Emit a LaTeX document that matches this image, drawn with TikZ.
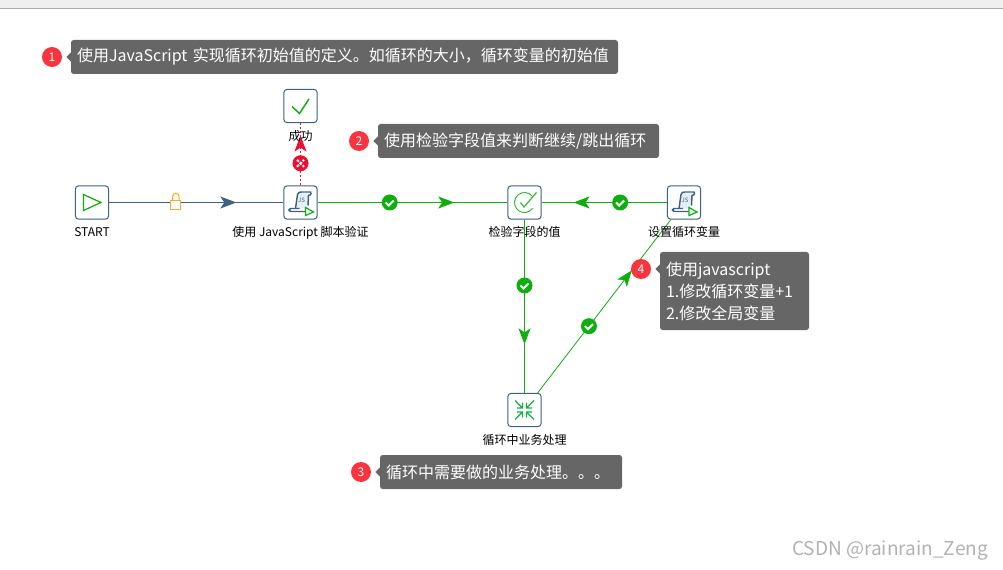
\documentclass[tikz,border=0pt]{standalone}
\usepackage{fontspec}
\setmainfont{Noto Sans CJK SC}
\usetikzlibrary{arrows.meta,positioning,decorations.markings}
\definecolor{flowblue}{HTML}{3D6384}
\definecolor{flowgreen}{HTML}{0DAE0D}
\definecolor{flowred}{HTML}{EA1030}
\definecolor{flowlock}{HTML}{FFA820}
\definecolor{notegrey}{HTML}{666666}
\definecolor{badgered}{HTML}{F9343F}
\definecolor{barline}{HTML}{ABABAB}
\definecolor{barfill}{HTML}{EFEFEF}
\definecolor{scrollfill}{HTML}{E4EEF6}
\definecolor{mergegreen}{HTML}{14B04A}
\tikzset{
  stepbox/.style={draw=flowblue, fill=white, rounded corners=2.5pt, line width=0.75pt, minimum size=25pt, inner sep=0pt},
  steplabel/.style={below=4.6pt of #1, font=\fontsize{9}{10}\selectfont, inner sep=0pt, text height=8pt, text depth=2pt},
  note/.style={fill=notegrey, text=white, rounded corners=2pt, inner xsep=4.5pt, inner ysep=0pt, minimum height=25.5pt, text width=#1, align=left, font=\fontsize{12}{16.5}\selectfont},
  badge/.style={circle, fill=badgered, text=white, minimum size=15pt, inner sep=0pt, font=\fontsize{9}{10}\selectfont},
  flowline/.style={line width=0.75pt},
  tipat/.style={postaction={decorate}, decoration={markings, mark=at position #1 with {\arrow{Stealth[length=12pt,width=9pt,inset=3pt]}}}},
  okmark/.style={circle, fill=flowgreen, minimum size=12pt, inner sep=0pt, path picture={
    \draw[white, line width=1.5pt] ([shift={(-4,0)}]path picture bounding box.center) -- ++(3,3) -- ++(5,-5);}},
  failmark/.style={circle, fill=flowred, minimum size=12pt, inner sep=0pt, path picture={
    \draw[white, line width=1.5pt] ([shift={(-3.5,-3.5)}]path picture bounding box.center) -- ++(7,7);
    \draw[white, line width=1.5pt] ([shift={(-3.5,3.5)}]path picture bounding box.center) -- ++(7,-7);}},
  lockmark/.style={draw=flowlock, fill=white, line width=0.8pt, minimum width=7.5pt, minimum height=7pt, inner sep=0pt, yshift=-2pt},
  playicon/.pic={\draw[flowgreen, line width=0.9pt] (-8.5,-8) -- (9,0) -- (-8.5,8) -- cycle;},
  tickicon/.pic={\draw[flowgreen, line width=1.1pt] (-8.5,0.5) -- (-1,7.5) -- (8.5,-7);},
  checkicon/.pic={
    \draw[flowgreen!85, line width=0.7pt] (40:7.5pt) arc[start angle=40, end angle=325, radius=7.5pt];
    \draw[flowgreen!85, line width=0.9pt] (-4,0) -- (-0.5,4.5) -- (12,-10);},
  mergeicon/.pic={
    \foreach \sx/\sy in {-1/-1,1/-1,-1/1,1/1}
      \draw[mergegreen, line width=0.9pt] (\sx*9.5,\sy*9.5) -- (\sx*2,\sy*2) (\sx*7.5,\sy*2) -- (\sx*2,\sy*2) -- (\sx*2,\sy*7.5);},
  scrollicon/.pic={
    \fill[scrollfill] (-3,-9) -- (8,-9) -- (7,6) -- (-5,6) -- cycle;
    \draw[flowblue, line width=1.1pt] (-5,6) -- (-3,-8) .. controls (-2.5,-10) and (-1,-10.5) .. (1,-10.5) -- (10,-10.5) .. controls (11,-10.5) and (11,-7) .. (8,-7) -- (7.5,3);
    \draw[flowblue, line width=1.1pt] (5,9) -- (-10,9) .. controls (-12,9) and (-12,6) .. (-10,6) -- (-1,6);
    \node[text=flowblue, font=\fontsize{4.5}{5}\selectfont, inner sep=0pt] (jstext) at (1,-2) {JS};
    \draw[flowgreen, line width=0.9pt, fill=white] (5,5) -- (13,9.5) -- (5,13) -- cycle;},
}
\begin{document}
\begin{tikzpicture}[x=0.75pt, y=-0.75pt, >=Stealth]
  \useasboundingbox (0,0) rectangle (1003,570);
  \node[fill=barfill, minimum width=752.25pt, minimum height=6pt, inner sep=0pt, anchor=north west] (topbar) at (0,0) {};
  \draw[barline, line width=0.75pt] (topbar.south west) -- (topbar.south east);
  % steps
  \node[stepbox] (start) at (92,202.5) {};
  \node[stepbox] (success) at (300.5,106) {};
  \node[stepbox] (jscheck) at (300.5,202.5) {};
  \node[stepbox] (fieldcheck) at (524.5,202.5) {};
  \node[stepbox] (setvar) at (684,202.5) {};
  \node[stepbox] (business) at (524.5,410) {};
  \pic at (start) {playicon};
  \pic at (success) {tickicon};
  \pic at (jscheck) {scrollicon};
  \pic at (fieldcheck) {checkicon};
  \pic at (setvar) {scrollicon};
  \pic at (business) {mergeicon};
  % hops
  \draw[flowblue, flowline, tipat=0.73] (start) -- node[lockmark, pos=0.383] (lock) {} (jscheck);
  \draw[flowlock, line width=0.8pt] ([xshift=-2.4pt]lock.north) -- ++(0,-3.5) arc[start angle=180, end angle=0, radius=2.4pt] -- ++(0,3.5);
  \draw[flowred, flowline, dash pattern=on 2pt off 1pt, tipat=0.80] (jscheck) -- node[failmark, pos=0.355] (fail) {} (success);
  \draw[flowgreen, flowline, tipat=0.72] (jscheck) -- node[okmark, pos=0.38] (ok1) {} (fieldcheck);
  \draw[flowgreen, flowline, tipat=0.745] (setvar) -- node[okmark, pos=0.373] (ok2) {} (fieldcheck);
  \draw[flowgreen, flowline, tipat=0.72] (fieldcheck) -- node[okmark, pos=0.38] (ok3) {} (business);
  \draw[flowgreen, line width=0.6pt, tipat=0.707] (business) -- node[okmark, pos=0.385] (ok4) {} (setvar);
  % step names
  \node[steplabel=start] (startname) {START};
  \node[steplabel=success] (successname) {成功};
  \node[steplabel=jscheck] (jscheckname) {使用 JavaScript 脚本验证};
  \node[steplabel=fieldcheck] (fieldcheckname) {检验字段的值};
  \node[steplabel=setvar] (setvarname) {设置循环变量};
  \node[steplabel=business] (businessname) {循环中业务处理};
  % notes
  \node[note=401.25pt] (note1) at (344.5,57) {使用JavaScript 实现循环初始值的定义。如循环的大小，循环变量的初始值};
  \node[note=201.75pt] (note2) at (518.5,141) {使用检验字段值来判断继续/跳出循环};
  \node[note=172.5pt] (note3) at (501,472) {循环中需要做的业务处理。。。};
  \node[note=102.75pt, minimum height=58.5pt] (note4) at (734.5,291) {使用javascript\\1.修改循环变量+1\\2.修改全局变量};
  \node[badge] (badge1) at (52,57) {1};
  \node[badge] (badge2) at (359,141) {2};
  \node[badge] (badge3) at (361,472) {3};
  \node[badge] (badge4) at (641,269) {4};
  \foreach \k in {1,2,3,4}
    \fill[notegrey] ([xshift=3pt]badge\k.east) -- ++(5,-5) -- ++(0,10) -- cycle;
  \node[text=black!30, font=\fontsize{14.3}{18}\selectfont, inner sep=0pt] (mark) at (890,550) {CSDN @rainrain\_Zeng};
\end{tikzpicture}
\end{document}
